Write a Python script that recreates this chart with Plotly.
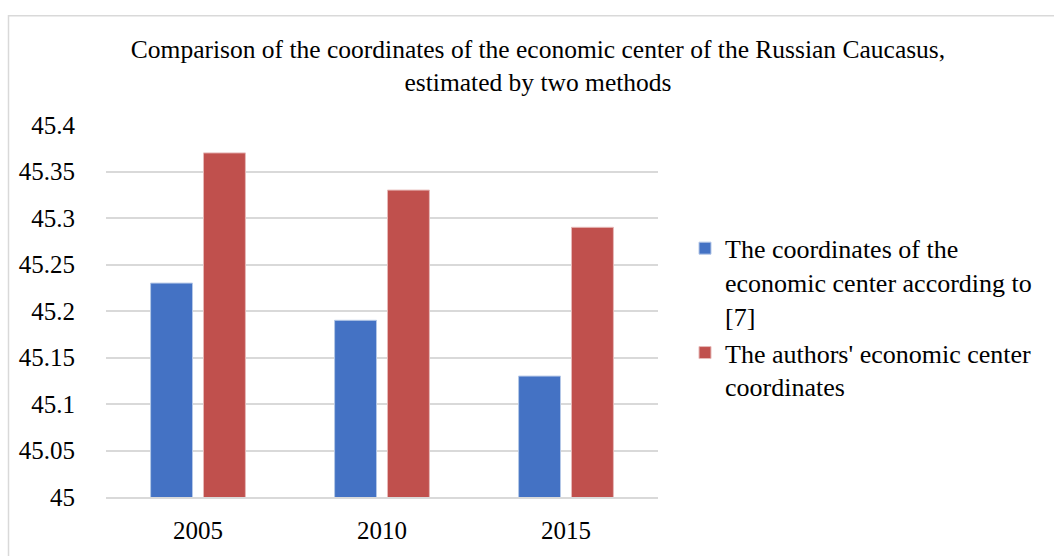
import plotly.graph_objects as go

years = ["2005", "2010", "2015"]
series1_name = "The coordinates of the<br>economic center according to<br>[7]"
series2_name = "The authors' economic center<br>coordinates"
series1 = [45.23, 45.19, 45.13]
series2 = [45.37, 45.33, 45.29]
y_ticks = [45, 45.05, 45.1, 45.15, 45.2, 45.25, 45.3, 45.35, 45.4]
y_tick_text = ["45", "45.05", "45.1", "45.15", "45.2", "45.25", "45.3", "45.35", "45.4"]

FONT = "Liberation Serif"

fig = go.Figure()
fig.add_trace(go.Bar(x=years, y=series1, name=series1_name, legendgroup="a",
                     marker=dict(color="#4472C4", line=dict(color="#b4c7e7", width=1))))
fig.add_trace(go.Bar(x=years, y=series2, name=series2_name, legendgroup="b",
                     marker=dict(color="#C0504D", line=dict(color="#e6b9b8", width=1))))

W, H = 1054, 556
L, R, T, B = 106, 658, 124.5, 499.3

fig.update_layout(
    width=W, height=H,
    margin=dict(l=L, r=W - R, t=T, b=H - B, pad=0),
    paper_bgcolor="white", plot_bgcolor="white",
    font=dict(family=FONT, size=25, color="#000000"),
    barmode="group", bargap=0.425, bargroupgap=0.2075,
    title=dict(text="Comparison of the coordinates of the economic center of the Russian Caucasus,<br>estimated by two methods",
               x=538 / W, xanchor="center", y=1 - 58 / H, yanchor="top",
               font=dict(family=FONT, size=25.5, color="#000000")),
    legend=dict(x=(685 - L) / (R - L), xanchor="left", y=(B - 225) / (B - T), yanchor="top",
                valign="top",
                font=dict(family=FONT, size=26, color="#000000"),
                itemwidth=30, tracegroupgap=0, bgcolor="rgba(0,0,0,0)"),
    showlegend=True,
)
fig.update_yaxes(range=[45, 45.4], tickvals=y_ticks, ticktext=y_tick_text,
                 showgrid=True, gridcolor="#d9d9d9", gridwidth=1.5,
                 zeroline=False, showline=False,
                 ticks="outside", ticklen=25, tickcolor="rgba(0,0,0,0)",
                 tickfont=dict(family=FONT, size=25, color="#000000"))
fig.update_xaxes(showgrid=False, showline=True, linecolor="#d9d9d9", linewidth=1.5,
                 ticks="outside", ticklen=10, tickcolor="rgba(0,0,0,0)",
                 tickfont=dict(family=FONT, size=25, color="#000000"))

fig.add_shape(type="rect", xref="paper", yref="paper",
              x0=(8.5 - L) / (R - L), x1=(1080 - L) / (R - L),
              y0=(B - 600) / (B - T), y1=(B - 14.5) / (B - T),
              line=dict(color="#d9d9d9", width=1.5), fillcolor="rgba(0,0,0,0)", layer="below")

fig.write_html("out.html")
